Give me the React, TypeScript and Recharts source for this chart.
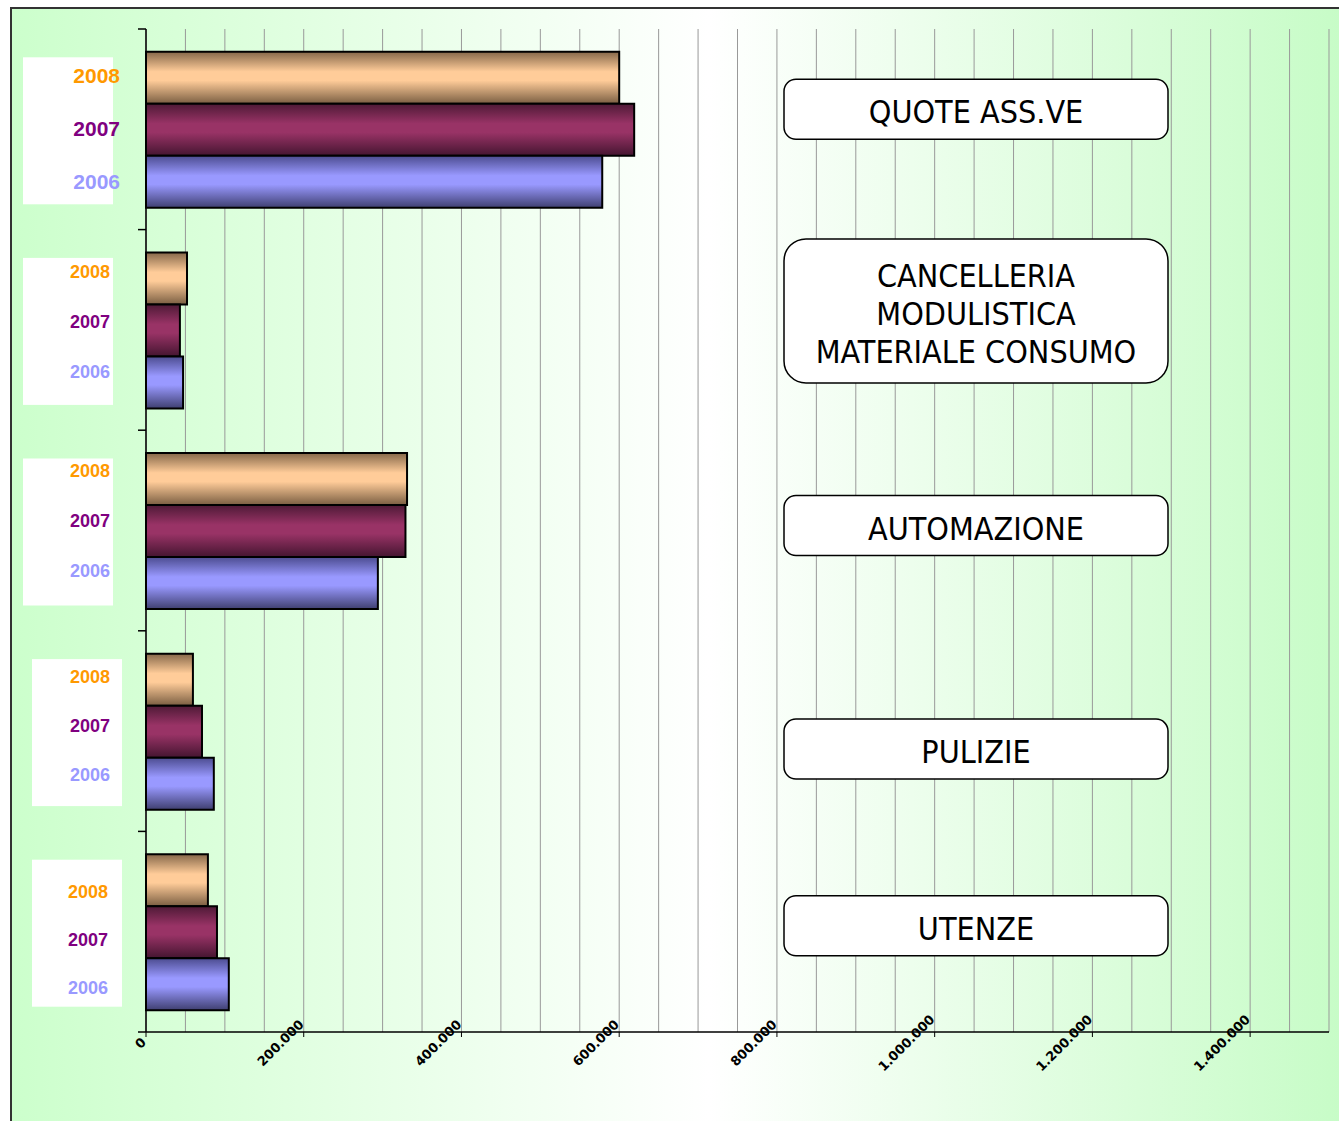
import React from 'react';
import { BarChart, Bar, XAxis, YAxis, CartesianGrid } from 'recharts';

// categories top to bottom, name lines as printed in the boxes
const categories = ['QUOTE ASS.VE', 'CANCELLERIA', 'AUTOMAZIONE', 'PULIZIE', 'UTENZE'];
const categoryLines = [
  ['QUOTE ASS.VE'],
  ['CANCELLERIA', 'MODULISTICA', 'MATERIALE CONSUMO'],
  ['AUTOMAZIONE'],
  ['PULIZIE'],
  ['UTENZE'],
];
const years = ['2008', '2007', '2006'];
const values2008 = [600000, 52000, 331000, 59500, 78500];
const values2007 = [619000, 43000, 329000, 71000, 90000];
const values2006 = [578500, 47000, 294000, 86000, 105000];

const xTicks = [0, 200000, 400000, 600000, 800000, 1000000, 1200000, 1400000];
const gridValues = [
  0, 50000, 100000, 150000, 200000, 250000, 300000, 350000, 400000, 450000, 500000,
  550000, 600000, 650000, 700000, 750000, 800000, 850000, 900000, 950000, 1000000,
  1050000, 1100000, 1150000, 1200000, 1250000, 1300000, 1350000, 1400000, 1450000, 1500000,
];

const yearColors: Record<string, string> = { '2008': '#ff9900', '2007': '#800080', '2006': '#9999ff' };

// where the loose text boxes sit around each category band
const labelLayout = [
  { boxX: 23, textX: 120, size: 21, yearShift: -1, step: 53, nameShift: -20 },
  { boxX: 23, textX: 110, size: 18, yearShift: -8, step: 50, nameShift: -19 },
  { boxX: 23, textX: 110, size: 18, yearShift: -10, step: 50, nameShift: -5 },
  { boxX: 32, textX: 110, size: 18, yearShift: -5, step: 49, nameShift: 18 },
  { boxX: 32, textX: 108, size: 18, yearShift: 8, step: 48, nameShift: -6 },
];

const data = categories.map((name, i) => ({
  name,
  y2008: values2008[i],
  y2007: values2007[i],
  y2006: values2006[i],
}));

const fmt = (v: number) => String(v).replace(/\B(?=(\d{3})+(?!\d))/g, '.');

const AXIS_X = 146;

function CategoryTick(props: any) {
  const { y, payload } = props;
  const i = payload?.index ?? props.index ?? 0;
  const half = payload?.offset || 100.3;
  const lay = labelLayout[i];
  const lines = categoryLines[i];
  const boxH = lines.length > 1 ? 144 : 60;
  const boxY = y + lay.nameShift - boxH / 2;
  const lineH = 38;
  const firstLine = y + lay.nameShift + 3 - ((lines.length - 1) * lineH) / 2;
  return (
    <g>
      <line x1={AXIS_X - 8} x2={AXIS_X} y1={y - half} y2={y - half} stroke="#000" strokeWidth={1.5} />
      {i === categories.length - 1 && (
        <line x1={AXIS_X - 8} x2={AXIS_X} y1={y + half} y2={y + half} stroke="#000" strokeWidth={1.5} />
      )}
      <rect x={lay.boxX} y={y - 72} width={90} height={147} fill="#fff" />
      {years.map((yr, k) => (
        <text
          key={yr}
          x={lay.textX}
          y={y + lay.yearShift + (k - 1) * lay.step}
          textAnchor="end"
          dominantBaseline="central"
          fontFamily="'Liberation Sans', Arial, sans-serif"
          fontWeight="bold"
          fontSize={lay.size}
          fill={yearColors[yr]}
        >
          {yr}
        </text>
      ))}
      <rect x={784} y={boxY} width={384} height={boxH} rx={lines.length > 1 ? 22 : 12} fill="#fff" stroke="#000" strokeWidth={1.5} />
      {lines.map((ln, k) => (
        <text
          key={ln}
          x={976}
          y={firstLine + k * lineH}
          textAnchor="middle"
          dominantBaseline="central"
          fontFamily="'DejaVu Sans Condensed', 'Liberation Sans Narrow', 'DejaVu Sans', sans-serif"
          fontSize={32}
          fill="#000"
        >
          {ln}
        </text>
      ))}
    </g>
  );
}

const TICK_FONT = 13;

function ValueTick(props: any) {
  const { x, y, payload } = props;
  const label = fmt(payload.value);
  const digits = label.replace(/\./g, '').length;
  const dots = label.length - digits;
  const len = TICK_FONT * (digits * 0.696 + dots * 0.38);
  // the rotated label's box ends at the tick, centred a little below the axis
  const boxW = 0.707 * (len + 0.73 * TICK_FONT);
  const cx = x + 1 - boxW / 2;
  const cy = y + 4;
  return (
    <text
      x={cx}
      y={cy}
      transform={`rotate(-45 ${cx} ${cy})`}
      textAnchor="middle"
      dominantBaseline="central"
      fontFamily="'DejaVu Sans', Verdana, sans-serif"
      fontWeight="bold"
      fontSize={TICK_FONT}
      fill="#000"
    >
      {label}
    </text>
  );
}

function BarGradient({ id, edgeTop, mid, edgeBottom }: { id: string; edgeTop: string; mid: string; edgeBottom: string }) {
  return (
    <linearGradient id={id} x1="0" y1="0" x2="0" y2="1">
      <stop offset="0%" stopColor={edgeTop} />
      <stop offset="38%" stopColor={mid} />
      <stop offset="55%" stopColor={mid} />
      <stop offset="100%" stopColor={edgeBottom} />
    </linearGradient>
  );
}

export default function App() {
  return (
    <div style={{ position: 'absolute', left: 0, top: 0, width: 1339, height: 1121, background: '#fff', overflow: 'hidden' }}>
      <div
        style={{
          position: 'absolute',
          left: 10,
          top: 7,
          width: 1340,
          height: 1120,
          borderLeft: '2px solid #333',
          borderTop: '2px solid #333',
          background: 'linear-gradient(to right, #ccffcc 0%, #ffffff 52%, #c6fcc6 100%)',
        }}
      />
      <div style={{ position: 'absolute', left: 0, top: 0 }}>
        <BarChart
          width={1339}
          height={1121}
          data={data}
          layout="vertical"
          margin={{ top: 29, right: 10, bottom: 0, left: 0 }}
          barCategoryGap="11.4%"
          barGap={0}
        >
          <defs>
            <BarGradient id="g2008" edgeTop="#86684a" mid="#ffcc99" edgeBottom="#7a5e42" />
            <BarGradient id="g2007" edgeTop="#4e1a36" mid="#993366" edgeBottom="#441530" />
            <BarGradient id="g2006" edgeTop="#4c4c90" mid="#9999ff" edgeBottom="#3f3f70" />
          </defs>
          <CartesianGrid horizontal={false} verticalValues={gridValues} stroke="#999" strokeWidth={1} />
          <XAxis
            type="number"
            domain={[0, 1500000]}
            ticks={xTicks}
            interval={0}
            height={89}
            tick={<ValueTick />}
            tickSize={5}
            axisLine={{ stroke: '#000', strokeWidth: 1.5 }}
            tickLine={{ stroke: '#000' }}
          />
          <YAxis
            type="category"
            dataKey="name"
            width={AXIS_X}
            interval={0}
            tickLine={false}
            axisLine={{ stroke: '#000', strokeWidth: 1.5 }}
            tick={<CategoryTick />}
          />
          <Bar dataKey="y2008" fill="url(#g2008)" stroke="#000" strokeWidth={2} isAnimationActive={false} />
          <Bar dataKey="y2007" fill="url(#g2007)" stroke="#000" strokeWidth={2} isAnimationActive={false} />
          <Bar dataKey="y2006" fill="url(#g2006)" stroke="#000" strokeWidth={2} isAnimationActive={false} />
        </BarChart>
      </div>
    </div>
  );
}
